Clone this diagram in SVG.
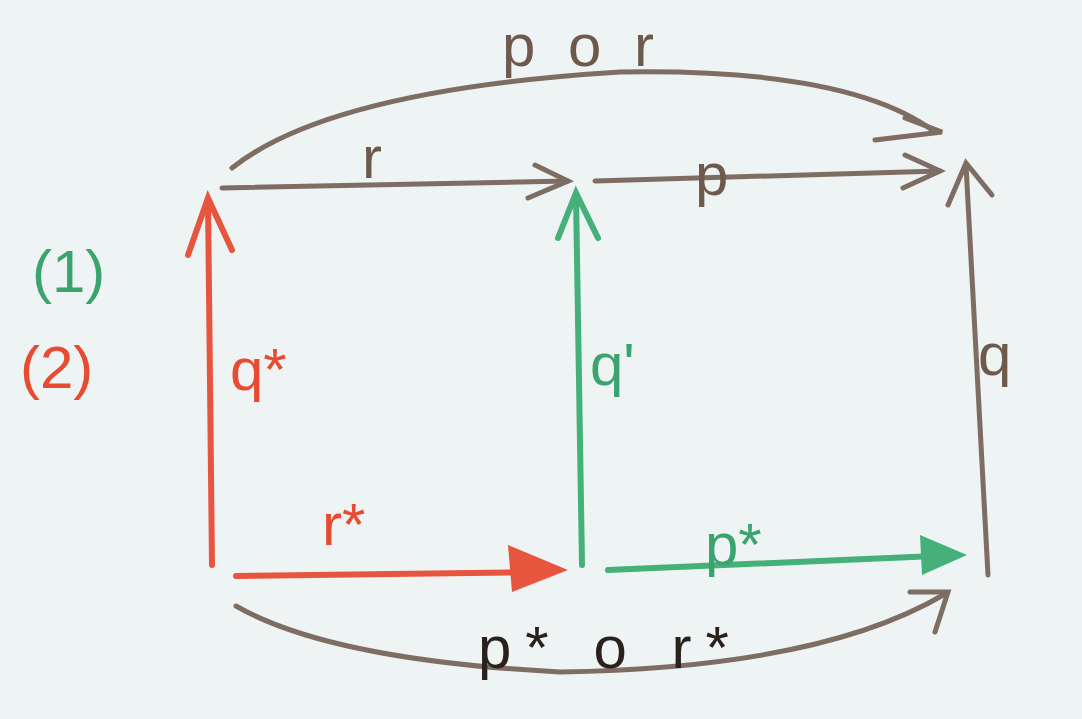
<svg xmlns="http://www.w3.org/2000/svg" width="1082" height="719" viewBox="0 0 1082 719">
<defs>
<style>
.g{stroke:#7d6d62;stroke-width:5;fill:none;stroke-linecap:round}
.r{stroke:#e8553f;stroke-width:6;fill:none;stroke-linecap:round}
.gr{stroke:#45b07a;stroke-width:6;fill:none;stroke-linecap:round}
text{font-family:"Liberation Sans",Arial,sans-serif;font-size:60px}
.tg{fill:#6e5a4c}
.tr{fill:#e84a32}
.tgr{fill:#3aa36e}
.tk{fill:#2a201c}
</style>
</defs>
<rect width="1082" height="719" fill="#eef3f3"/>
<g id="connectors">
<path id="e-por" class="g" d="M232,168 Q330,90 620,72 Q850,68 935,132"/>
<path class="g" d="M905,118 L942,132 L875,140"/>
<line id="e-r" class="g" x1="222" y1="188" x2="568" y2="181"/>
<path class="g" d="M535,165 L568,181 L528,198"/>
<line id="e-p" class="g" x1="595" y1="181" x2="940" y2="171"/>
<path class="g" d="M905,155 L940,171 L903,188"/>
<line id="e-qs" class="r" x1="212" y1="565" x2="208" y2="200"/>
<path class="r" d="M188,255 L208,198 L232,250"/>
<line id="e-q1" class="gr" x1="582" y1="565" x2="576" y2="195"/>
<path class="gr" d="M558,238 L576,193 L598,238"/>
<line id="e-q" class="g" x1="988" y1="575" x2="966" y2="165"/>
<path class="g" d="M948,205 L966,163 L992,195"/>
<line id="e-rs" class="r" x1="236" y1="576" x2="540" y2="572"/>
<path d="M508,545 L568,570 L512,592 Z" fill="#e8553f"/>
<line id="e-ps" class="gr" x1="608" y1="570" x2="935" y2="556"/>
<path d="M920,535 L967,555 L922,575 Z" fill="#45b07a"/>
<path id="e-psrs" class="g" d="M236,606 Q330,660 560,672 Q820,668 945,594"/>
<path class="g" d="M910,592 L948,592 L935,632"/>
</g>
<g id="labels">
<text class="tg" x="502" y="66" letter-spacing="8">p o r</text>
<text class="tg" x="362" y="178">r</text>
<text class="tg" x="695" y="195">p</text>
<text class="tr" x="230" y="390" font-size="66">q*</text>
<text class="tgr" x="590" y="385">q'</text>
<text class="tg" x="978" y="375">q</text>
<text class="tr" x="322" y="545" font-size="64">r*</text>
<text class="tgr" x="705" y="565">p*</text>
<text class="tk" x="478" y="668" letter-spacing="14">p* o r*</text>
<text class="tgr" x="32" y="292" font-size="52">(1)</text>
<text class="tr" x="20" y="388" font-size="54">(2)</text>
</g>
</svg>
